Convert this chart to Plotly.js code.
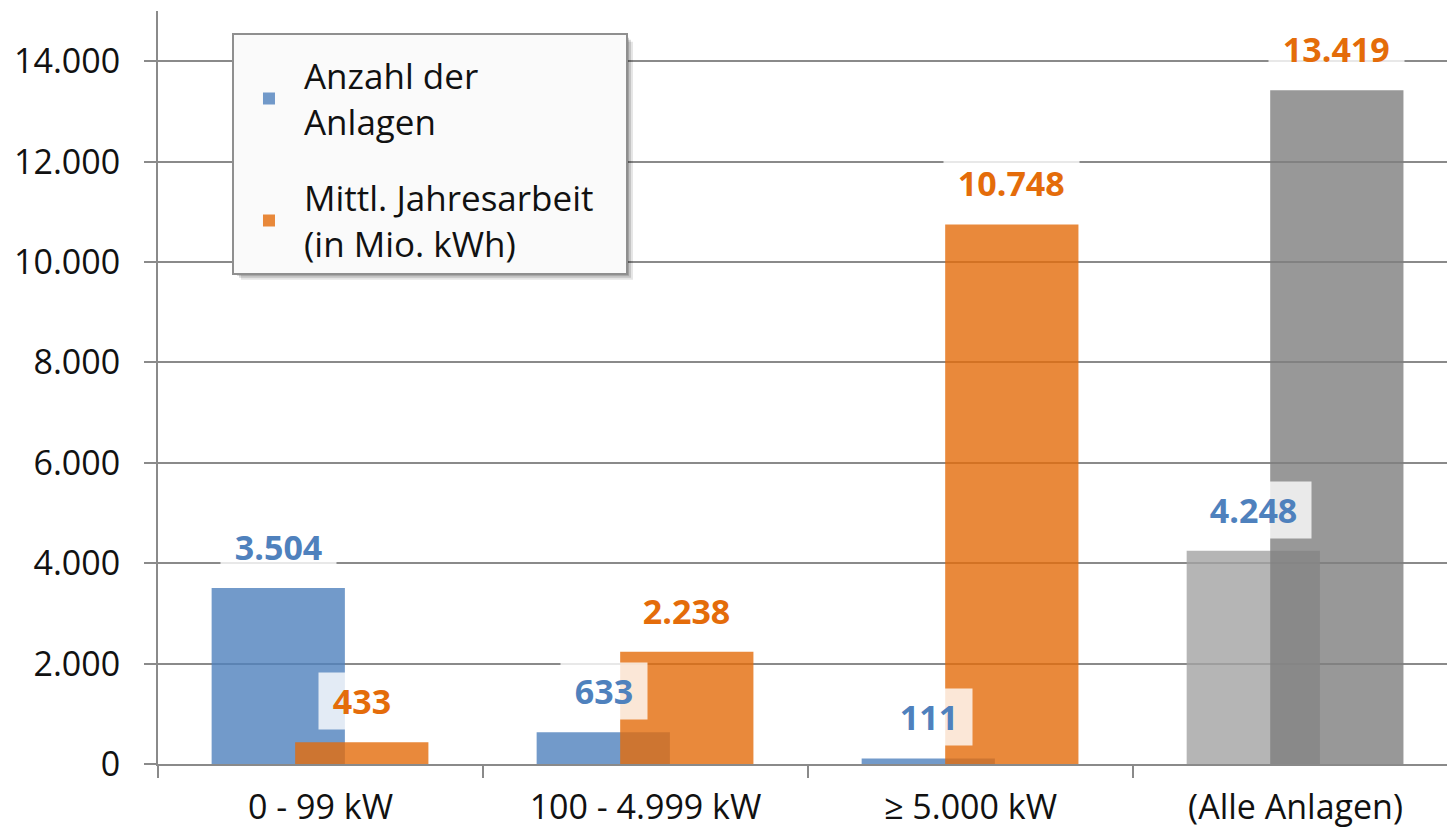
<!DOCTYPE html>
<html>
<head>
<meta charset="utf-8">
<script src="https://cdn.plot.ly/plotly-3.0.1.min.js"></script>
<style>
  html, body { margin: 0; padding: 0; background: #fff; }
  #chart { width: 1447px; height: 831px; }
</style>
</head>
<body>
<div id="chart"></div>
<script>
// ---- data ----
const categories = ['0 - 99 kW', '100 - 4.999 kW', '≥ 5.000 kW', '(Alle Anlagen)'];
const anzahlAnlagen = [3504, 633, 111, 4248];
const jahresarbeit = [433, 2238, 10748, 13419];
const seriesNames = ['Anzahl der<br>Anlagen', 'Mittl. Jahresarbeit&nbsp;&nbsp;&nbsp;<br>(in Mio. kWh)'];
const yTickValues = [0, 2000, 4000, 6000, 8000, 10000, 12000, 14000];

// ---- styles ----
const BLUE = 'rgba(79,129,189,0.8)';
const ORANGE = 'rgba(228,108,10,0.8)';
const GRAY_LIGHT = 'rgba(163,163,163,0.8)';
const GRAY_DARK = 'rgba(126,126,126,0.8)';
const LABEL_BLUE = '#4F81BD';
const LABEL_ORANGE = '#E46C0A';
const GRID = '#8a8a8a';
const FONT = 'Open Sans, sans-serif';
const BAR_W = 0.41;
const BLUE_OFF = -0.335;
const ORANGE_OFF = -0.078;

function fmt(v) { return String(v).replace(/\B(?=(\d{3})+(?!\d))/g, '.'); }

const lastIdx = categories.length - 1;
const blueColors = categories.map((c, i) => i === lastIdx ? GRAY_LIGHT : BLUE);
const orangeColors = categories.map((c, i) => i === lastIdx ? GRAY_DARK : ORANGE);

const traces = [
  {
    type: 'bar', name: seriesNames[0], x: categories, y: anzahlAnlagen,
    offset: BLUE_OFF, width: BAR_W,
    marker: { color: blueColors, line: { width: 0 } },
    legendgroup: 'a', hoverinfo: 'skip'
  },
  {
    type: 'bar', name: seriesNames[1], x: categories, y: jahresarbeit,
    offset: ORANGE_OFF, width: BAR_W,
    marker: { color: orangeColors, line: { width: 0 } },
    legendgroup: 'b', hoverinfo: 'skip'
  }
];

const annotations = [];
categories.forEach((c, i) => {
  annotations.push({
    x: c, y: anzahlAnlagen[i], xref: 'x', yref: 'y',
    text: '&nbsp;' + fmt(anzahlAnlagen[i]) + '&nbsp;', showarrow: false,
    xanchor: 'center', yanchor: 'middle', xshift: -42, yshift: 41,
    font: { family: FONT, size: 34, color: LABEL_BLUE, weight: 'bold' },
    bgcolor: 'rgba(255,255,255,0.8)', borderpad: 5
  });
  annotations.push({
    x: c, y: jahresarbeit[i], xref: 'x', yref: 'y',
    text: '&nbsp;' + fmt(jahresarbeit[i]) + '&nbsp;', showarrow: false,
    xanchor: 'center', yanchor: 'middle', xshift: 41, yshift: 41,
    font: { family: FONT, size: 34, color: LABEL_ORANGE, weight: 'bold' },
    bgcolor: 'rgba(255,255,255,0.8)', borderpad: 5
  });
});

const layout = {
  width: 1447, height: 831,
  margin: { l: 158, r: 0, t: 11, b: 67 },
  paper_bgcolor: '#ffffff', plot_bgcolor: '#ffffff',
  separators: ',.',
  barmode: 'overlay',
  font: { family: FONT, color: '#111111' },
  xaxis: {
    type: 'category',
    range: [-0.5, 3.466],
    tickson: 'boundaries',
    ticks: 'outside', ticklen: 12, tickwidth: 2, tickcolor: GRID,
    showline: true, linecolor: GRID, linewidth: 2,
    showgrid: false, zeroline: false,
    tickfont: { family: FONT, size: 34, color: '#111111' },
    ticklabelstandoff: 12
  },
  yaxis: {
    range: [0, 15000],
    tickvals: yTickValues,
    tickformat: ',d',
    ticks: 'outside', ticklen: 12, tickwidth: 2, tickcolor: GRID,
    showline: true, linecolor: GRID, linewidth: 2,
    showgrid: true, gridcolor: GRID, gridwidth: 2,
    zeroline: false,
    tickfont: { family: FONT, size: 34, color: '#111111' },
    ticklabelstandoff: 17
  },
  showlegend: true,
  legend: {
    x: 0.0574, y: 0.971, xanchor: 'left', yanchor: 'top',
    bgcolor: '#fafafa', bordercolor: '#8f8f8f', borderwidth: 2,
    font: { family: FONT, size: 35, color: '#111111' },
    title: { text: '&nbsp;', font: { family: FONT, size: 9 } },
    traceorder: 'grouped', tracegroupgap: 28,
    itemwidth: 60
  },
  annotations: annotations
};

Plotly.newPlot('chart', traces, layout, { staticPlot: true, displayModeBar: false }).then(gd => {
  // soft drop shadow behind the legend box
  const bg = gd.querySelector('.legend .bg');
  if (!bg) return;
  const r = bg.getBoundingClientRect();
  const fr = gd.getBoundingClientRect();
  const sz = gd._fullLayout._size;
  const toX = px => (px - fr.left - sz.l) / sz.w;
  const toY = py => 1 - (py - fr.top - sz.t) / sz.h;
  const shapes = [];
  [[6, 0.10], [4, 0.14], [2, 0.18]].forEach(([d, a]) => {
    shapes.push({
      type: 'rect', xref: 'paper', yref: 'paper', layer: 'above',
      x0: toX(r.left + d + 2), x1: toX(r.right + d),
      y0: toY(r.bottom + d), y1: toY(r.top + d + 2),
      fillcolor: 'rgba(0,0,0,' + a + ')', line: { width: 0 }
    });
  });
  return Plotly.relayout(gd, { shapes: shapes });
});
</script>
</body>
</html>
